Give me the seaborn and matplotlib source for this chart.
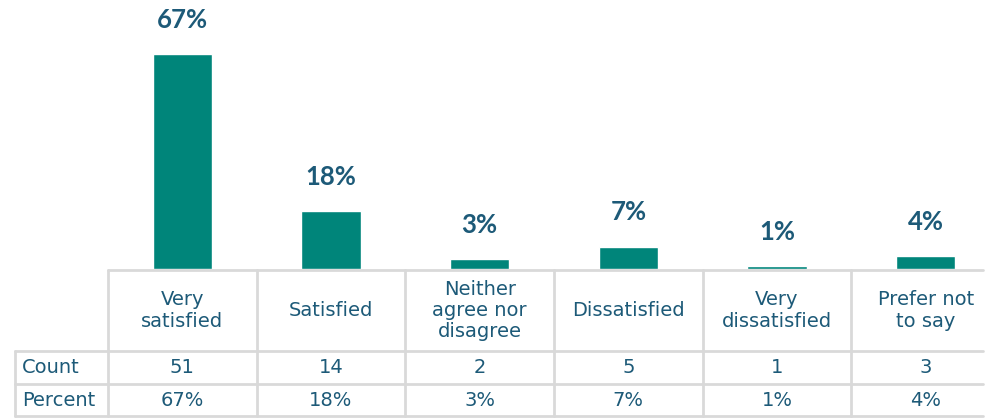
import matplotlib.pyplot as plt
import seaborn as sns

# data
categories = ["Very\nsatisfied", "Satisfied", "Neither\nagree nor\ndisagree",
              "Dissatisfied", "Very\ndissatisfied", "Prefer not\nto say"]
counts = [51, 14, 2, 5, 1, 3]
percents = [67, 18, 3, 7, 1, 4]
row_labels = ["Count", "Percent"]

TEAL = "#00857a"
NAVY = "#1d5a78"
GRID = "#d9d9d9"

sns.set_theme(style="white")
plt.rcParams["font.family"] = ["DejaVu Sans"]

fig = plt.figure(figsize=(10, 4.2), dpi=100)

# bars
ax = fig.add_axes([0.108, 151 / 420, 0.892, 269 / 420])
sns.barplot(x=categories, y=percents, color=TEAL, width=0.4, saturation=1, ax=ax)
ax.set_xlim(-0.5, 5.5)
ax.set_ylim(0, 83.8)
ax.bar_label(ax.containers[0], labels=[f"{p}%" for p in percents], padding=16,
             fontsize=18.5, fontweight="bold", color=NAVY, family=["Lato", "DejaVu Sans"])
ax.set_axis_off()

# table under the bars (y measured in px down from the bar baseline)
tab = fig.add_axes([0.108, 0, 0.892, 151 / 420])
tab.set_xlim(-0.5, 5.5)
tab.set_ylim(151, 0)
tab.set_axis_off()

x_left = -1.126
x_right = 5.385
rows_y = [1, 82, 115, 147]
kw = dict(color=GRID, lw=2, clip_on=False)
tab.plot([-0.5, x_right], [rows_y[0]] * 2, **kw)
for y in rows_y[1:]:
    tab.plot([x_left, x_right], [y, y], **kw)
for i in range(len(categories)):
    tab.plot([i - 0.5, i - 0.5], [rows_y[0], rows_y[-1]], **kw)
tab.plot([x_left, x_left], [rows_y[1], rows_y[-1]], **kw)

fs = 14
for i, cat in enumerate(categories):
    tab.text(i, (rows_y[0] + rows_y[1]) / 2, cat, ha="center", va="center",
             fontsize=fs, color=NAVY, linespacing=1.15)
    tab.text(i, (rows_y[1] + rows_y[2]) / 2, str(counts[i]), ha="center", va="center",
             fontsize=fs, color=NAVY)
    tab.text(i, (rows_y[2] + rows_y[3]) / 2, f"{percents[i]}%", ha="center", va="center",
             fontsize=fs, color=NAVY)

for j, lab in enumerate(row_labels):
    tab.text(x_left + 0.05, (rows_y[j + 1] + rows_y[j + 2]) / 2, lab, ha="left", va="center",
             fontsize=fs, color=NAVY, clip_on=False)

fig.savefig("out.png", dpi=100)
